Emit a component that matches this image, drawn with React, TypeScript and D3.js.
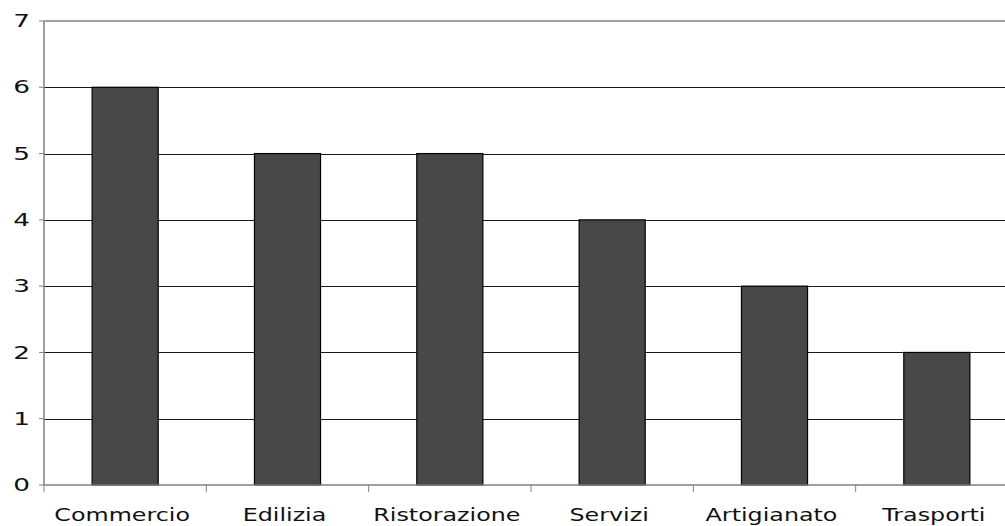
import React, { useEffect, useRef } from "react";
import * as d3 from "d3";

const categories = ["Commercio", "Edilizia", "Ristorazione", "Servizi", "Artigianato", "Trasporti"];
const values = [6, 5, 5, 4, 3, 2];
const yTicks = [0, 1, 2, 3, 4, 5, 6, 7];

export default function App() {
  const svgRef = useRef<SVGSVGElement>(null);

  const width = 1005;
  const height = 526;
  const plot = { left: 44, right: 1018, top: 21, bottom: 485 };
  const font = "'DejaVu Sans', sans-serif";
  const stretch = 1.4;

  useEffect(() => {
    const svgEl = d3.select(svgRef.current);
    svgEl.selectAll("*").remove();
    const svg = svgEl.append("g");

    const x = d3.scaleBand<string>()
      .domain(categories)
      .range([plot.left, plot.right])
      .paddingInner(0.593)
      .paddingOuter(0.2965);

    const y = d3.scaleLinear().domain([0, 7]).range([plot.bottom, plot.top]);

    const step = (plot.right - plot.left) / categories.length;

    // gridlines 1..6
    svg.append("g")
      .selectAll("line")
      .data(yTicks.filter(t => t > 0 && t < 7))
      .enter()
      .append("line")
      .attr("x1", plot.left)
      .attr("x2", plot.right)
      .attr("y1", d => Math.round(y(d)) + 0.5)
      .attr("y2", d => Math.round(y(d)) + 0.5)
      .attr("stroke", "#1a1a1a")
      .attr("stroke-width", 1);

    // top frame line
    svg.append("line")
      .attr("x1", plot.left)
      .attr("x2", plot.right)
      .attr("y1", y(7))
      .attr("y2", y(7))
      .attr("stroke", "#808080")
      .attr("stroke-width", 1.5);

    // bars
    svg.append("g")
      .selectAll("rect")
      .data(values)
      .enter()
      .append("rect")
      .attr("x", (d, i) => x(categories[i])!)
      .attr("y", d => y(d))
      .attr("width", x.bandwidth())
      .attr("height", d => y(0) - y(d))
      .attr("fill", "#484848")
      .attr("stroke", "#000")
      .attr("stroke-width", 1.2);

    // y axis
    const axisColor = "#808080";
    svg.append("line")
      .attr("x1", plot.left).attr("x2", plot.left)
      .attr("y1", plot.top).attr("y2", plot.bottom)
      .attr("stroke", axisColor).attr("stroke-width", 1.5);

    const yAxis = svg.append("g");
    yAxis.selectAll("line")
      .data(yTicks)
      .enter()
      .append("line")
      .attr("x1", plot.left - 5)
      .attr("x2", plot.left)
      .attr("y1", d => y(d))
      .attr("y2", d => y(d))
      .attr("stroke", axisColor);

    yAxis.selectAll("text")
      .data(yTicks)
      .enter()
      .append("text")
      .attr("transform", d => `translate(30, ${y(d)}) scale(${stretch + 0.15}, 1)`)
      .attr("text-anchor", "end")
      .attr("dominant-baseline", "central")
      .attr("font-family", font)
      .attr("font-size", 17)
      .attr("fill", "#111")
      .text(d => d);

    // x axis
    svg.append("line")
      .attr("x1", plot.left).attr("x2", plot.right)
      .attr("y1", plot.bottom).attr("y2", plot.bottom)
      .attr("stroke", axisColor).attr("stroke-width", 1.5);

    svg.append("g")
      .selectAll("line")
      .data(d3.range(categories.length + 1))
      .enter()
      .append("line")
      .attr("x1", i => plot.left + i * step)
      .attr("x2", i => plot.left + i * step)
      .attr("y1", plot.bottom)
      .attr("y2", plot.bottom + 7)
      .attr("stroke", axisColor);

    svg.append("g")
      .selectAll("text")
      .data(categories)
      .enter()
      .append("text")
      .attr("transform", d => `translate(${x(d)! + x.bandwidth() / 2 - 3}, 521) scale(${stretch}, 1)`)
      .attr("text-anchor", "middle")
      .attr("font-family", font)
      .attr("font-size", 17)
      .attr("fill", "#111")
      .text(d => d);
  }, []);

  return (
    <svg
      ref={svgRef}
      width={width}
      height={height}
      style={{ position: "absolute", left: 0, top: 0, background: "#fff" }}
    />
  );
}
